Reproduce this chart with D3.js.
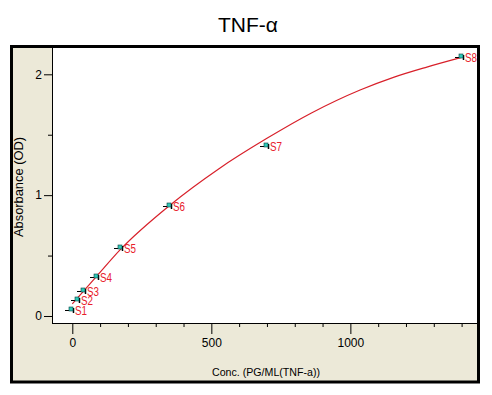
<!DOCTYPE html>
<html><head><meta charset="utf-8">
<script src="https://cdn.jsdelivr.net/npm/d3@7"></script>
<style>body{margin:0;background:#fff;}svg{display:block;font-family:Arial,"Liberation Sans",sans-serif;}</style>
</head><body>
<svg id="c" width="492" height="395"></svg>
<script>
const standards = ["S1","S2","S3","S4","S5","S6","S7","S8"];
const conc = [0, 21.9, 43.75, 87.5, 175, 350, 700, 1400];
const od = [0.05, 0.13, 0.21, 0.325, 0.565, 0.91, 1.41, 2.14];
const fitConc = [0, 88, 175, 350, 525, 700, 860, 1035, 1155, 1275, 1400];
const fitOD = [0.10, 0.33, 0.555, 0.915, 1.215, 1.47, 1.68, 1.87, 1.975, 2.06, 2.14];
const yMajor = [0, 1, 2];
const yMinor = [0.5, 1.5];
const xMajor = [0, 500, 1000];
const xMinor = [100, 200, 300, 400, 600, 700, 800, 900, 1100, 1200, 1300, 1400];
const title = "TNF-\u03b1";
const xTitle = "Conc. (PG/ML(TNF-a))";
const yTitle = "Absorbance (OD)";

const svg = d3.select("#c");
const L = 52, R = 478, T = 47, B = 323;
const x = d3.scaleLinear().domain([-73, 1459]).range([L, R]);
const y = d3.scaleLinear().domain([-0.058, 2.226]).range([B, T]);

// frame
svg.append("rect").attr("x", 11.5).attr("y", 46.5).attr("width", 467).attr("height", 335.5)
  .attr("fill", "#ece9d8");
svg.append("rect").attr("x", L).attr("y", T).attr("width", R - L).attr("height", B - T).attr("fill", "#fff");

svg.append("text").attr("x", 248).attr("y", 32).attr("text-anchor", "middle")
  .attr("font-size", 21).attr("fill", "#000").text(title);

svg.append("clipPath").attr("id", "clip").append("rect")
  .attr("x", L).attr("y", T).attr("width", R - L).attr("height", B - T);
const g = svg.append("g").attr("clip-path", "url(#clip)");

// fitted curve
const line = d3.line().x(d => x(d[0])).y(d => y(d[1])).curve(d3.curveMonotoneX);
g.append("path").datum(fitConc.map((c, i) => [c, fitOD[i]]))
  .attr("d", line).attr("fill", "none").attr("stroke", "#d8202a").attr("stroke-width", 1.2);

// markers
const pts = conc.map((c, i) => ({ c, v: od[i], n: standards[i] }));
const m = g.selectAll("g.m").data(pts).enter().append("g")
  .attr("transform", d => `translate(${Math.round(x(d.c))},${Math.round(y(d.v))})`);
m.append("line").attr("x1", -7).attr("x2", 2).attr("y1", 0.5).attr("y2", 0.5).attr("stroke", "#000").attr("stroke-width", 1);
m.append("line").attr("x1", 1.5).attr("x2", 1.5).attr("y1", -2).attr("y2", 3).attr("stroke", "#000").attr("stroke-width", 1.5);
m.append("rect").attr("x", -3).attr("y", -3).attr("width", 4).attr("height", 4).attr("fill", "#2ec9b8").attr("stroke", "#0a4040").attr("stroke-width", 0.6);
m.append("text").attr("x", 3).attr("y", 5).attr("font-size", 12).attr("fill", "#e8202a")
  .attr("textLength", 12).attr("lengthAdjust", "spacingAndGlyphs").text(d => d.n);

// axes
svg.append("g").attr("transform", `translate(${L},0)`)
  .call(d3.axisLeft(y).tickValues(yMajor).tickFormat(d3.format("d")).tickSize(8).tickPadding(2));
svg.append("g").attr("transform", `translate(${L},0)`)
  .call(d3.axisLeft(y).tickValues(yMinor).tickFormat("").tickSize(4));
svg.append("g").attr("transform", `translate(0,${B})`)
  .call(d3.axisBottom(x).tickValues(xMajor).tickFormat(d3.format("d")).tickSize(11).tickPadding(4));
svg.append("g").attr("transform", `translate(0,${B})`)
  .call(d3.axisBottom(x).tickValues(xMinor).tickFormat("").tickSize(4));
svg.selectAll(".domain").remove();
svg.selectAll(".tick line").attr("stroke", "#000");
svg.selectAll(".tick text").attr("font-size", 12).attr("font-family", "Arial, 'Liberation Sans', sans-serif").attr("fill", "#000");
svg.append("line").attr("x1", L + 0.5).attr("x2", L + 0.5).attr("y1", T).attr("y2", B + 0.5).attr("stroke", "#000");
svg.append("line").attr("x1", L).attr("x2", R).attr("y1", B + 0.5).attr("y2", B + 0.5).attr("stroke", "#000");

svg.append("text").attr("x", 266).attr("y", 376).attr("text-anchor", "middle").attr("font-size", 11)
  .attr("textLength", 108).attr("lengthAdjust", "spacingAndGlyphs").text(xTitle);
svg.append("text").attr("transform", "translate(23,187) rotate(-90)").attr("text-anchor", "middle")
  .attr("font-size", 12).attr("textLength", 100).attr("lengthAdjust", "spacingAndGlyphs").text(yTitle);

// frame border
svg.append("rect").attr("x", 11.5).attr("y", 46.5).attr("width", 467).attr("height", 335.5)
  .attr("fill", "none").attr("stroke", "#000").attr("stroke-width", 3);
</script>
</body></html>
